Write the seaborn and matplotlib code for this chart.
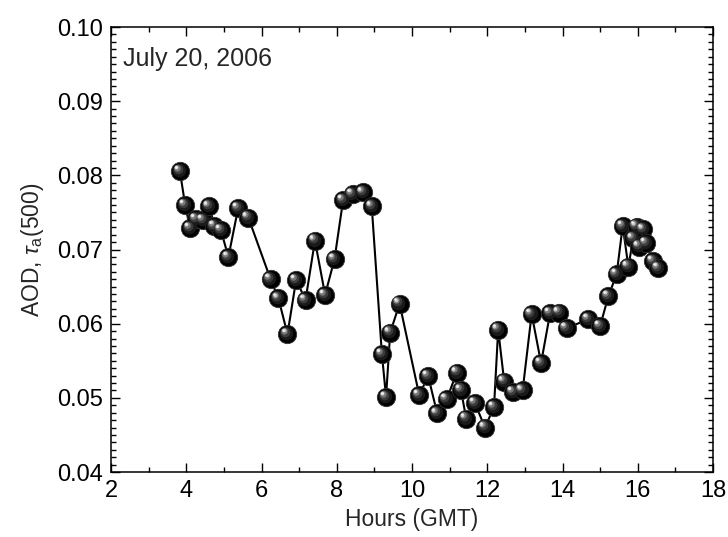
import matplotlib
matplotlib.use("Agg")
import matplotlib.pyplot as plt
import matplotlib.transforms as mtransforms
from matplotlib.ticker import MultipleLocator, FormatStrFormatter
import seaborn as sns
import pandas as pd

hours = [3.83, 3.97, 4.10, 4.26, 4.44, 4.61, 4.75, 4.92, 5.12, 5.38, 5.65,
         6.24, 6.45, 6.69, 6.92, 7.17, 7.42, 7.69, 7.94, 8.17, 8.42, 8.69,
         8.93, 9.20, 9.31, 9.42, 9.67, 10.19, 10.43, 10.67, 10.92, 11.19,
         11.30, 11.44, 11.67, 11.94, 12.18, 12.29, 12.45, 12.68, 12.94,
         13.18, 13.43, 13.67, 13.90, 14.11, 14.69, 15.00, 15.22, 15.44,
         15.60, 15.75, 15.88, 15.97, 16.04, 16.15, 16.22, 16.40, 16.55]
aod = [0.0806, 0.0760, 0.0729, 0.0741, 0.0740, 0.0758, 0.0732, 0.0726, 0.0690,
       0.0756, 0.0743, 0.0660, 0.0634, 0.0586, 0.0659, 0.0632, 0.0712, 0.0639,
       0.0687, 0.0767, 0.0775, 0.0777, 0.0758, 0.0559, 0.0501, 0.0588, 0.0627,
       0.0504, 0.0529, 0.0479, 0.0498, 0.0534, 0.0511, 0.0472, 0.0493, 0.0460,
       0.0488, 0.0592, 0.0522, 0.0508, 0.0510, 0.0613, 0.0547, 0.0614, 0.0615,
       0.0594, 0.0606, 0.0597, 0.0637, 0.0667, 0.0732, 0.0677, 0.0715, 0.0731,
       0.0704, 0.0727, 0.0709, 0.0684, 0.0675]

x_ticks = [2, 4, 6, 8, 10, 12, 14, 16, 18]
y_ticks = [0.04, 0.05, 0.06, 0.07, 0.08, 0.09, 0.10]
date_label = "July 20, 2006"

df = pd.DataFrame({"hours": hours, "aod": aod})

sns.set_style("ticks")
plt.rcParams["font.family"] = ["Liberation Sans", "DejaVu Sans"]
plt.rcParams["mathtext.fontset"] = "custom"
plt.rcParams["mathtext.rm"] = "Liberation Sans"
plt.rcParams["mathtext.it"] = "Liberation Sans:italic"

fig = plt.figure(figsize=(7.28, 5.37), dpi=100)
ax = fig.add_axes([0.1525, 0.121, 0.8269, 0.8287])

sns.lineplot(data=df, x="hours", y="aod", ax=ax, color="black", lw=1.5,
             sort=False, estimator=None, zorder=2)

# spherical markers: dark body + offset highlights
sns.scatterplot(data=df, x="hours", y="aod", ax=ax, s=175, color="black",
                edgecolor="#333333", linewidth=0.6, zorder=3, legend=False)
layers = [(95, "#1a1a1a", -0.8, 0.8), (48, "#3c3c3c", -1.6, 1.6),
          (22, "#777777", -2.3, 2.3), (8, "#c8c8c8", -2.8, 2.8),
          (3, "#f4f4f4", -3.0, 3.0)]
for i, (s, c, dx, dy) in enumerate(layers):
    tr = mtransforms.offset_copy(ax.transData, fig=fig, x=dx, y=dy, units="points")
    ax.scatter(df["hours"], df["aod"], s=s, color=c, linewidths=0,
               transform=tr, zorder=4 + i)

ax.set_xlim(2, 18)
ax.set_ylim(0.04, 0.10)
ax.set_xticks(x_ticks)
ax.set_yticks(y_ticks)
ax.xaxis.set_minor_locator(MultipleLocator(1))
ax.yaxis.set_minor_locator(MultipleLocator(0.001))
ax.yaxis.set_major_formatter(FormatStrFormatter("%.2f"))
ax.tick_params(which="both", direction="in", top=True, right=True,
               labelsize=17, colors="black", width=1.0)
ax.tick_params(which="major", length=6.5, pad=6)
ax.tick_params(which="minor", length=3.5)
for sp in ax.spines.values():
    sp.set_visible(True)
    sp.set_linewidth(1.1)
    sp.set_color("black")

ax.set_xlabel("Hours (GMT)", fontsize=16.5, labelpad=4)
ax.set_ylabel(r"AOD, $\tau_{\rm a}$(500)", fontsize=16.5, labelpad=8)
ax.text(0.02, 0.955, date_label, transform=ax.transAxes, fontsize=18,
        va="top", ha="left")

fig.savefig("out.png", dpi=100)
